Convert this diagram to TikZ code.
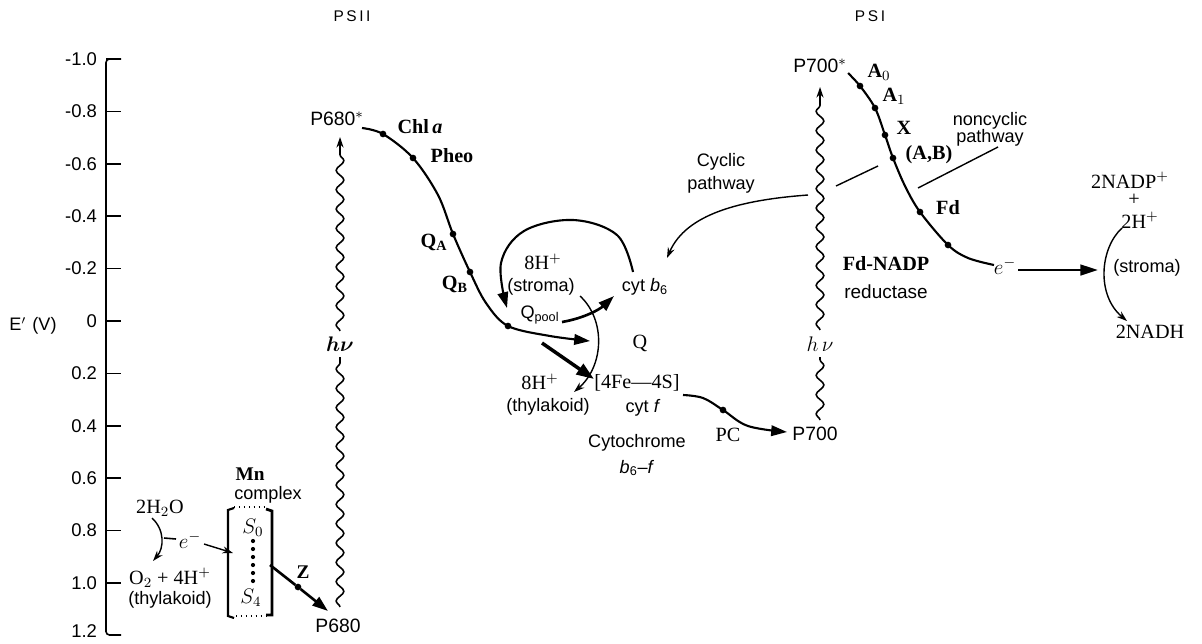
\documentclass[tikz,border=0pt]{standalone}
\usepackage{fontspec}
\setmainfont{Liberation Serif}
\setsansfont{Liberation Sans}
\usetikzlibrary{arrows.meta,decorations.pathmorphing}
\begin{document}
\begin{tikzpicture}[x=0.02cm,y=-0.02cm,
  every node/.style={inner sep=0pt, outer sep=0pt},
  sf/.style={font=\sffamily\fontsize{10.3}{12}\selectfont},
  sfb/.style={font=\sffamily\fontsize{11}{13}\selectfont},
  rm/.style={font=\fontsize{11.5}{13}\selectfont},
  rmb/.style={font=\bfseries\fontsize{11.5}{13}\selectfont},
  axl/.style={font=\sffamily\fontsize{10.5}{12}\selectfont, anchor=east},
  ttl/.style={font=\sffamily\fontsize{8.8}{10}\selectfont},
  eline/.style={line width=1.2pt},
  bigarrow/.style={line width=1.5pt, -{Triangle[length=9pt,width=6pt]}},
  thinarrow/.style={line width=0.8pt, -{Stealth[length=6pt,width=4pt]}},
  dot/.style={circle, fill, inner sep=0pt, minimum size=3.8pt},
  wave/.style={decorate, decoration={snake, amplitude=2.2pt, segment length=11pt}, line width=0.9pt},
]
\useasboundingbox (0,0) rectangle (1202,643);

% ---------- titles ----------
\node[ttl] (t2) at (352,16) {P\,S\,I\,I};
\node[ttl] (t1) at (870,16) {P\,S\,I};

% ---------- axis ----------
\draw[line width=0.9pt, rounded corners=2pt] (121,59) -- (106,59) -- (106,635) -- (121,635);
\foreach \v/\t in {-1.0/-1.0,-0.8/-0.8,-0.6/-0.6,-0.4/-0.4,-0.2/-0.2,0/0,0.2/0.2,0.4/0.4,0.6/0.6,0.8/0.8,1.0/1.0}{
  \pgfmathsetmacro\yy{321+262*\v}
  \draw[line width=0.9pt] (106,\yy) -- (121,\yy);
  \node[axl] (ax\t) at (97,\yy) {\t};
}
\node[axl] (axlast) at (97,631) {1.2};
\node[sf] (elab) at (33,326) {E$'$\,\,(V)};

% ---------- PSII light ----------
\coordinate (w2b) at (340,607);
\coordinate (w2m1) at (340,357);
\coordinate (w2m2) at (340,331);
\coordinate (w2u) at (340,150);
\coordinate (w2t) at (340,137);
\draw[wave] (w2b) -- (w2m1);
\draw[wave] (w2m2) -- (w2u);
\draw[thinarrow, line width=0.9pt] (w2u) -- (w2t);
\node[rm, font=\fontsize{12}{14}\selectfont\boldmath] (hv2) at (340,344) {$h\nu$};

\node[sfb] (p680s) at (337,119) {P680$^{*}$};
\node[sfb] (p680) at (338,626) {P680};

% ---------- PSII chain ----------
\coordinate (c0) at (362,128);
\node[dot] (chl) at (383,134) {};
\node[dot] (pheo) at (413,158) {};
\node[dot] (qa) at (453,234) {};
\node[dot] (qb) at (470,272) {};
\node[dot] (qp) at (508,326) {};
\coordinate (c1) at (438,195);
\coordinate (c2) at (486,303);
\coordinate (c3) at (550,336);
\coordinate (c4) at (590,341);
\draw[eline, -{Triangle[length=9pt,width=6pt]}] plot[smooth, tension=0.55] coordinates {(c0) (chl) (pheo) (c1) (qa) (qb) (c2) (qp) (c3) (c4)};

\node[rmb] (chla) at (420,127) {Chl\,{\itshape a}};
\node[rmb] (pheol) at (452,156) {Pheo};
\node[rmb] (qal) at (434,242) {Q$_\mathbf{A}$};
\node[rmb] (qbl) at (455,284) {Q$_\mathbf{B}$};

% ---------- cytochrome b6-f ----------
\node[rm] (h8s) at (543,262) {8H$^+$};
\node[sf] (stroma1) at (541,287) {(stroma)};
\node[sf] (qpool) at (540,315) {Q\textsubscript{pool}};
\node[sf] (cytb6) at (645,287) {cyt \textit{b}\textsubscript{6}};
\node[rm] (qlab) at (640,343) {Q};
\node[rm] (fes) at (637,383) {[4Fe---4S]};
\node[sf] (cytf) at (643,408) {cyt \textit{f}};
\node[rm] (h8t) at (540,382) {8H$^+$};
\node[sf] (thyl1) at (548,407) {(thylakoid)};
\node[sf] (cytoc) at (637,443) {Cytochrome};
\node[sf] (b6f) at (637,468) {\textit{b}\textsubscript{6}--\textit{f}};

% big cycle arc cyt b6 -> Qpool
\coordinate (a0) at (633,272);
\coordinate (a1) at (617,235);
\coordinate (a2) at (573,220);
\coordinate (a3) at (524,231);
\coordinate (a4) at (501,263);
\coordinate (a5) at (507,308);
\draw[eline, -{Triangle[length=9pt,width=6pt]}] plot[smooth, tension=0.6] coordinates {(a0) (a1) (a2) (a3) (a4) (a5)};

% Qpool -> cyt b6
\coordinate (qb6s) at (562,322);
\coordinate (qb6e) at (614,296);
\draw[bigarrow] (qb6s) .. controls (585,318) and (600,309) .. (qb6e);

% thick arrow to FeS
\coordinate (fa0) at (542,343);
\coordinate (fa1) at (594,379);
\draw[line width=2pt, -{Triangle[length=10pt,width=7pt]}] (fa0) -- (fa1);

% proton arc stroma -> thylakoid
\coordinate (pa0) at (580,296);
\coordinate (pa1) at (574,392);
\draw[thinarrow] (pa0) .. controls (606,320) and (604,366) .. (pa1);

% cyt f -> PC -> P700
\coordinate (pc0) at (683,395);
\node[dot] (pcd) at (723,410) {};
\coordinate (pc1) at (703,398);
\coordinate (pc2) at (748,426);
\coordinate (pc3) at (787,432);
\draw[eline, -{Triangle[length=9pt,width=6pt]}] plot[smooth, tension=0.6] coordinates {(pc0) (pc1) (pcd) (pc2) (pc3)};
\node[rm] (pclab) at (728,435) {PC};
\node[sfb] (p700) at (815,434) {P700};

% ---------- PSI light ----------
\coordinate (w1b) at (820,420);
\coordinate (w1m1) at (820,357);
\coordinate (w1m2) at (820,330);
\coordinate (w1u) at (820,100);
\coordinate (w1t) at (820,87);
\draw[wave] (w1b) -- (w1m1);
\draw[wave] (w1m2) -- (w1u);
\draw[thinarrow, line width=0.9pt] (w1u) -- (w1t);
\node[rm, font=\fontsize{12}{14}\selectfont] (hv1) at (820,344) {$h\,\nu$};

\node[sfb] (p700s) at (820,66) {P700$^{*}$};

% ---------- PSI chain ----------
\coordinate (d0) at (848,73);
\node[dot] (a0d) at (860,86) {};
\node[dot] (a1d) at (875,108) {};
\node[dot] (xd) at (885,135) {};
\node[dot] (abd) at (893,158) {};
\node[dot] (fdd) at (920,212) {};
\node[dot] (fnr) at (948,245) {};
\coordinate (d1) at (905,186);
\coordinate (d2) at (968,258);
\coordinate (d3) at (994,265);
\draw[eline] plot[smooth, tension=0.55] coordinates {(d0) (a0d) (a1d) (xd) (abd) (d1) (fdd) (fnr) (d2) (d3)};

\node[rmb] (a0l) at (879,72) {A$_0$};
\node[rmb] (a1l) at (894,96) {A$_1$};
\node[rmb] (xl) at (904,128) {X};
\node[rmb] (abl) at (929,155) {(A,B)};
\node[rmb] (fdl) at (948,208) {Fd};

\node[rmb] (fdnadp) at (886,264) {Fd-NADP};
\node[sf, font=\sffamily\fontsize{10.8}{12}\selectfont] (reduct) at (886,292) {reductase};

\node[rm] (em) at (1005,266) {$e^{-}$};
\coordinate (ea0) at (1018,270);
\coordinate (ea1) at (1098,270);
\draw[line width=1.5pt, -{Triangle[length=10pt,width=6pt]}] (ea0) -- (ea1);

% ---------- NADP ----------
\node[rm] (nadp) at (1130,180) {2NADP$^+$};
\node[rm] (plus) at (1134,200) {+};
\node[rm] (h2) at (1140,220) {2H$^+$};
\node[sf] (stroma2) at (1147,268) {(stroma)};
\node[rm] (nadh) at (1150,332) {2NADH};
\coordinate (n0) at (1122,228);
\coordinate (n1) at (1127,321);
\draw[thinarrow] (n0) .. controls (1100,248) and (1096,295) .. (n1);

% ---------- cyclic / noncyclic ----------
\node[sf] (ncl1) at (990,121) {noncyclic};
\node[sf] (ncl2) at (990,138) {pathway};
\coordinate (nc0) at (998,147);
\coordinate (nc1) at (918,188);
\draw[line width=0.8pt] (nc0) -- (nc1);

\node[sf] (cyl1) at (721,162) {Cyclic};
\node[sf] (cyl2) at (721,185) {pathway};
\coordinate (cy0) at (878,166);
\coordinate (cy1) at (836,186);
\coordinate (cy2) at (808,195);
\coordinate (cy3) at (667,258);
\draw[line width=0.8pt] (cy0) -- (cy1);
\draw[thinarrow] (cy2) .. controls (740,200) and (686,214) .. (cy3);

% ---------- water splitting ----------
\node[rm] (h2o) at (160,508) {2H$_2$O};
\coordinate (wa0) at (152,518);
\coordinate (wa1) at (153,561);
\draw[thinarrow] (wa0) .. controls (165,530) and (164,548) .. (wa1);
\coordinate (el0) at (164,538);
\coordinate (el1) at (176,539);
\draw[line width=0.9pt] (el0) -- (el1);
\node[rm] (ewat) at (190,540) {$e^{-}$};
\coordinate (el2) at (204,544);
\coordinate (el3) at (233,553);
\draw[thinarrow] (el2) -- (el3);
\node[rm] (o2) at (170,578) {O$_2$ + 4H$^+$};
\node[sf] (thyl2) at (170,600) {(thylakoid)};

\node[rmb, font=\bfseries\fontsize{11}{13}\selectfont] (mn) at (250,474) {Mn};
\node[sf, font=\sffamily\fontsize{10.3}{12}\selectfont] (cplx) at (268,495) {complex};

% bracket
\draw[line width=1.2pt] (234,508) -- (228,510) -- (228,616) -- (234,618);
\draw[line width=1.6pt] (266,509) -- (272,511) -- (272,615) -- (266,615);
\draw[line width=0.8pt, dotted] (234,507) -- (266,507);
\draw[line width=0.8pt, dotted] (236,616) -- (266,616);
\node[rm, font=\fontsize{12}{14}\selectfont] (s0) at (253,528) {$S_0$};
\node[rm, font=\fontsize{12}{14}\selectfont] (s4) at (251,598) {$S_4$};
\foreach \yy in {541,549,...,582} \fill (253,\yy) circle (1.2pt);

% Z
\coordinate (z0) at (270,565);
\node[dot] (zd) at (298,587) {};
\coordinate (z1) at (328,611);
\draw[line width=1.5pt, -{Triangle[length=9pt,width=6pt]}] (z0) -- (zd) -- (z1);
\node[rmb, font=\bfseries\fontsize{11}{13}\selectfont] (zl) at (303,572) {Z};

\end{tikzpicture}
\end{document}
